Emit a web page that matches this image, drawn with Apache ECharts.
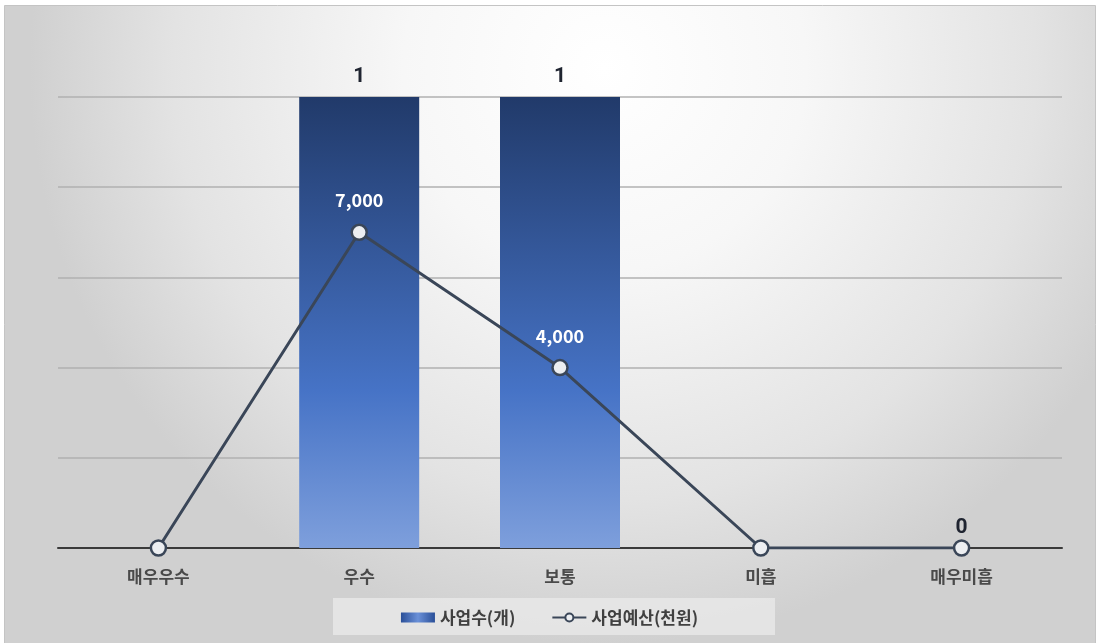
<!DOCTYPE html>
<html><head><meta charset="utf-8">
<script src="https://cdn.jsdelivr.net/npm/echarts@6/dist/echarts.min.js"></script>
<style>html,body{margin:0;padding:0;background:#fff}#c{width:1099px;height:643px}</style>
</head><body><div id="c"></div>
<script>
var categories = ['매우우수', '우수', '보통', '미흡', '매우미흡'];
var projectCounts = ['-', 1, 1, '-', 0];
var budgets = [0, 7000, 4000, 0, 0];
var budgetLabelShown = [false, true, true, false, false];

var chart = echarts.init(document.getElementById('c'));
var font = '"Noto Sans CJK KR", "Noto Sans", sans-serif';
chart.setOption({
  backgroundColor: '#ffffff',
  animation:false,
  graphic:[
    {type:'rect', left:4, top:5, shape:{width:1091, height:638},
     style:{fill:{type:'radial', x:0.55, y:0.1, r:0.9, colorStops:[{offset:0,color:'#ffffff'},{offset:0.35,color:'#f7f7f7'},{offset:0.75,color:'#e3e3e3'},{offset:1,color:'#d0d0d0'}]},
       stroke:'#c4c4c4', lineWidth:1}, z:-2},
    {type:'rect', left:333, top:598, shape:{width:442, height:37}, style:{fill:'rgba(232,232,232,0.85)'}, z:-1}
  ],
  grid:{left:58, right:37, top:97, bottom:95},
  legend:{bottom:12, left:'center', itemGap:36, itemWidth:34, itemHeight:10,
    textStyle:{fontFamily:font, fontSize:17, fontWeight:'bold', color:'#404040'},
    data:[{name:'사업수(개)', icon:'rect', itemStyle:{color:{type:'linear',x:0,y:0,x2:1,y2:0,colorStops:[{offset:0,color:'#2a4f98'},{offset:0.5,color:'#6a90d8'},{offset:1,color:'#2a4f98'}]}}},{name:'사업예산(천원)'}]},
  xAxis:{type:'category', data:categories,
    axisLine:{lineStyle:{color:'#3a3a3a', width:2}}, axisTick:{show:false},
    axisLabel:{fontFamily:font, fontSize:17, fontWeight:'bold', color:'#4a4a4a', margin:20}},
  yAxis:[
    {type:'value', min:0, max:1, interval:0.2, show:true, axisLine:{show:false}, axisTick:{show:false}, axisLabel:{show:false},
     splitLine:{lineStyle:{color:'#b0b0b0', width:1.5}}},
    {type:'value', min:0, max:10000, interval:2000, axisLine:{show:false}, axisTick:{show:false}, axisLabel:{show:false}, splitLine:{show:false}}
  ],
  series:[
    {name:'사업수(개)', type:'bar', yAxisIndex:0, data:projectCounts, barWidth:120,
     itemStyle:{color:{type:'linear', x:0,y:0,x2:0,y2:1, colorStops:[{offset:0,color:'#213a6a'},{offset:0.65,color:'#4673c6'},{offset:1,color:'#7e9fdc'}]}},
     label:{show:true, position:'top', distance:10, fontFamily:'Roboto, "Noto Sans", sans-serif', fontSize:21, fontWeight:'bold', color:'#1f2430'}},
    {name:'사업예산(천원)', type:'line', yAxisIndex:1, data:budgets, symbol:'circle', symbolSize:15,
     lineStyle:{color:'#3a4658', width:3},
     itemStyle:{color:'#eceef1', borderColor:'#3a4658', borderWidth:2.5},
     label:{show:true, position:'top', distance:14, fontFamily:font, fontSize:18, fontWeight:'bold', color:'#ffffff',
       formatter:function(p){return budgetLabelShown[p.dataIndex] ? echarts.format.addCommas(p.value) : '';}},
     z:5}
  ]
});
</script></body></html>
